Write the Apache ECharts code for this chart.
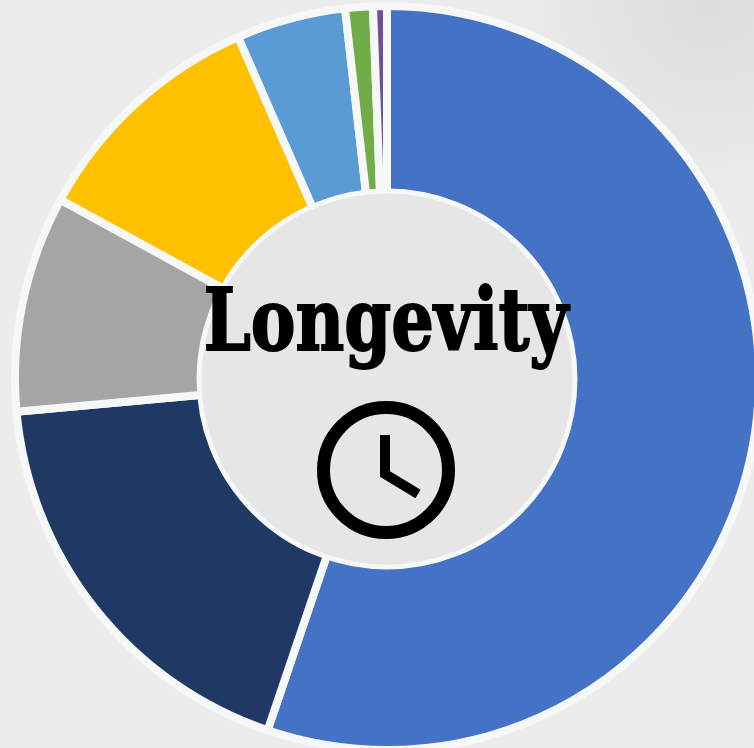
<!DOCTYPE html>
<html>
<head>
<meta charset="utf-8">
<style>html,body{margin:0;padding:0;background:#ececec}#c{width:754px;height:748px}</style>
<script src="https://cdn.jsdelivr.net/npm/echarts@6/dist/echarts.min.js"></script>
</head>
<body>
<div id="c"></div>
<script>
const categories = ['A','B','C','D','E','F','G'];
const values = [55.2, 18.35, 9.4, 10.5, 4.75, 1.2, 0.6];
const colors = ['#4472c4','#1f3864','#a5a5a5','#ffc000','#5b9bd5','#70ad47','#6f4f96'];
const centerTitle = 'Longevity';
const chart = echarts.init(document.getElementById('c'), null, {renderer:'canvas'});
chart.setOption({
  backgroundColor:'#ececec',
  animation:false,
  series:[{
    type:'pie',
    center:[387,378],
    radius:[185,372],
    startAngle:90,
    clockwise:true,
    minAngle:0,
    avoidLabelOverlap:false,
    label:{show:false},
    labelLine:{show:false},
    itemStyle:{borderColor:'#f6f7f7',borderWidth:8},
    emphasis:{disabled:true},
    data:categories.map((name,i)=>({name,value:values[i],itemStyle:{color:colors[i]}}))
  }],
  graphic:[
    {type:'rect',z:0,silent:true,shape:{x:454,y:0,width:300,height:220},style:{fill:{type:'radial',x:0.85,y:0,r:0.9,colorStops:[{offset:0,color:'rgba(195,195,195,0.4)'},{offset:1,color:'rgba(195,195,195,0)'}]}}},
    {type:'circle',z:50,shape:{cx:387,cy:379,r:188},style:{fill:'#e6e6e6',stroke:'#f6f7f7',lineWidth:5}},
    {type:'text',z:60,x:386,y:328,scaleX:0.78,style:{text:centerTitle,fill:'#000',stroke:'#000',lineWidth:2,font:'bold 86px "DejaVu Serif"',align:'center',verticalAlign:'middle'},originX:0,originY:0},
    {type:'circle',z:60,shape:{cx:386,cy:470,r:62.5},style:{fill:'none',stroke:'#000',lineWidth:13}},
    {type:'polyline',z:60,shape:{points:[[385,435],[385,474],[418,494]]},style:{fill:'none',stroke:'#000',lineWidth:10,lineJoin:'miter'}}
  ]
});
</script>
</body>
</html>
